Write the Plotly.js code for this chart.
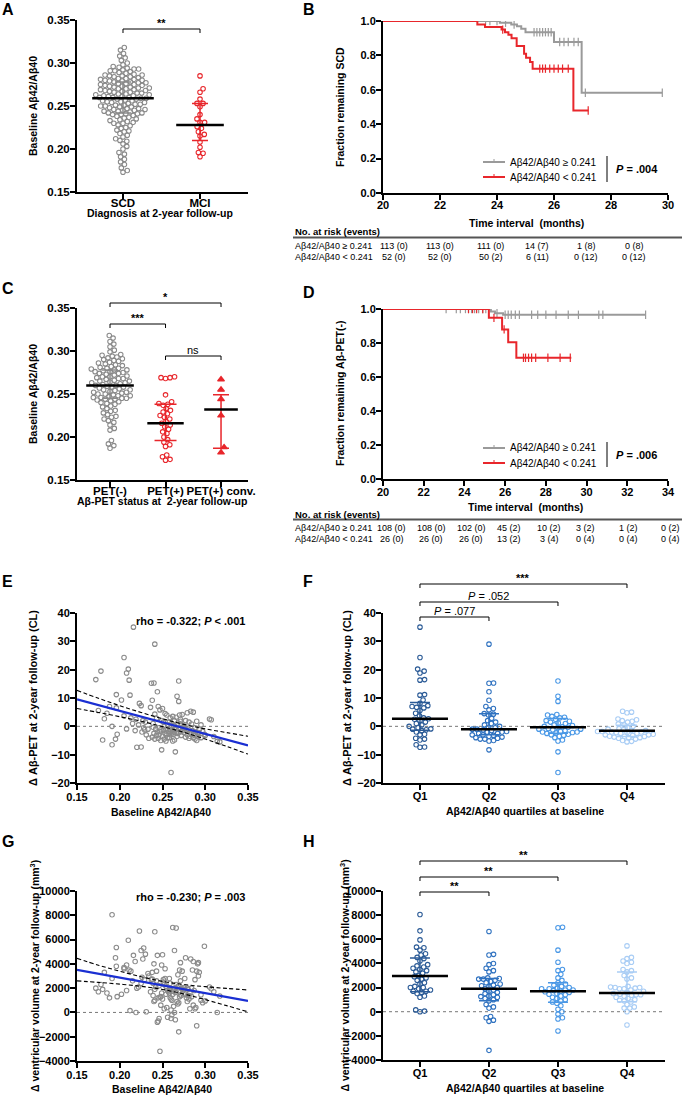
<!DOCTYPE html>
<html><head><meta charset="utf-8">
<script src="https://cdn.plot.ly/plotly-3.0.1.min.js"></script>
<style>html,body{margin:0;padding:0;background:#fff}</style>
</head><body><div id="chart" style="width:685px;height:1096px"></div>
<script>
// ================= DATA =================
// Panel A
const catA = ['SCD', 'MCI'];
const scdRatio = [0.318,0.315,0.311,0.308,0.306,0.303,0.300,
0.298,0.296,0.295,0.294,0.293,0.293,0.292,0.291,0.291,0.290,
0.289,0.288,0.287,0.286,0.286,0.285,0.285,0.284,0.284,0.283,0.282,0.282,0.281,0.281,0.280,0.280,
0.279,0.279,0.278,0.278,0.277,0.277,0.276,0.276,0.275,0.275,0.274,0.274,0.273,0.273,0.272,0.272,0.271,0.271,0.270,0.270,
0.269,0.269,0.268,0.268,0.267,0.267,0.266,0.266,0.265,0.265,0.264,0.264,0.263,0.263,0.262,0.262,0.261,0.261,0.260,0.260,0.260,
0.259,0.259,0.258,0.258,0.257,0.256,0.256,0.255,0.255,0.254,0.254,0.253,0.252,0.252,0.251,0.251,0.250,0.250,
0.249,0.249,0.248,0.247,0.247,0.246,0.246,0.245,0.245,0.244,0.244,0.243,0.242,0.242,0.241,0.241,0.240,0.240,
0.239,0.238,0.237,0.236,0.235,0.234,0.233,0.232,0.231,0.230,0.230,
0.228,0.227,0.225,0.224,0.222,0.221,0.220,
0.218,0.216,0.214,0.212,0.210,0.209,
0.206,0.203,0.200,0.196,0.194,0.191,0.188,0.185,0.182,0.178,0.175,0.173];
const mciRatio = [0.285,0.270,0.266,0.258,0.253,0.253,0.249,0.240,0.235,0.231,0.231,0.226,0.224,0.220,0.217,0.215,0.208,0.202,0.196,0.195,0.191];
const statA_median = [0.259, 0.228];
const statA_lower = [0.242, 0.210];
const statA_upper = [0.278, 0.253];

// Panel C
const catC = ['PET(-)', 'PET(+)', 'PET(+) conv.'];
const petNegRatio = [0.318,0.315,0.311,0.308,0.305,0.301,0.299,
0.296,0.295,0.294,0.293,0.292,0.291,0.290,
0.289,0.288,0.287,0.286,0.285,0.284,0.283,0.282,0.281,0.280,0.280,
0.279,0.278,0.278,0.277,0.276,0.276,0.275,0.274,0.274,0.273,0.272,0.271,0.270,0.270,
0.269,0.268,0.268,0.267,0.266,0.265,0.265,0.264,0.263,0.263,0.262,0.261,0.260,0.260,
0.259,0.258,0.258,0.257,0.256,0.255,0.255,0.254,0.253,0.252,0.252,0.251,0.250,0.250,
0.249,0.248,0.248,0.247,0.246,0.246,0.245,0.245,0.244,0.244,0.243,0.242,0.241,0.240,
0.239,0.238,0.236,0.235,0.233,0.231,0.230,
0.228,0.226,0.224,0.223,0.221,0.219,0.217,0.214,0.210,0.208,
0.196,0.192,0.190,0.187];
const petPosRatio = [0.270,0.269,0.269,0.268,0.249,0.241,0.239,0.238,0.237,0.233,0.231,0.229,0.227,0.225,0.223,0.221,0.218,0.216,0.214,0.212,0.209,0.206,0.204,0.200,0.197,0.194,0.191,0.189,0.179,0.177,0.174,0.173];
const petConvRatio = [0.267,0.255,0.244,0.225,0.188,0.182];
const statC_median = [0.260, 0.216, 0.232];
const statC_lower = [0.245, 0.196, 0.187];
const statC_upper = [0.278, 0.238, 0.249];

// Kaplan-Meier (B, D)
const legendLabels = ['Aβ42/Aβ40 ≥ 0.241', 'Aβ42/Aβ40 &lt; 0.241'];
const kmB_highT = [20, 24.1, 24.5, 24.7, 24.85, 25.0, 26.0, 26.97, 29.8];
const kmB_highS = [1, 0.99, 0.98, 0.97, 0.955, 0.935, 0.878, 0.583, 0.583];
const kmB_highCens = [23.6, 23.75, 24.0, 24.3, 24.6, 25.3, 25.4, 25.5, 25.6, 25.7, 25.8, 25.9, 26.2, 26.35, 26.5, 26.7, 26.85, 27.1, 29.8];
const kmB_lowT = [20, 23.31, 23.58, 24.16, 24.28, 24.40, 24.51, 24.69, 24.95, 25.02, 25.16, 25.25, 26.68, 27.21];
const kmB_lowS = [1, 0.98, 0.965, 0.95, 0.935, 0.92, 0.90, 0.855, 0.81, 0.787, 0.762, 0.723, 0.48, 0.48];
const kmB_lowCens = [24.2, 25.5, 25.6, 25.7, 25.85, 26.0, 26.15, 26.3, 26.5, 27.2];
const kmD_highT = [20, 25.3, 25.5, 25.9, 32.9];
const kmD_highS = [1, 0.985, 0.975, 0.966, 0.966];
const kmD_highCens = [23.1,23.6,23.8,24.05,24.2,24.35,24.5,24.7,24.9,25.05,25.6,26.0,26.15,26.3,26.5,26.7,27.3,27.6,28.0,28.5,29.1,29.6,30.6,30.8,32.9];
const kmD_lowT = [20, 25.2, 25.85, 26.15, 26.55, 29.25];
const kmD_lowS = [1, 0.948, 0.88, 0.805, 0.713, 0.713];
const kmD_lowCens = [24.2,24.4,24.6,24.9,25.45,25.95,26.9,27.0,27.15,27.3,27.5,28.1,28.7,29.2];
const pB = '<b><i>P</i> = .004</b>';
const pD = '<b><i>P</i> = .006</b>';

// Numbers at risk
const riskHeader = 'No. at risk (events)';
const riskB_high = ['113 (0)','113 (0)','111 (0)','14 (7)','1 (8)','0 (8)'];
const riskB_low  = ['52 (0)','52 (0)','50 (2)','6 (11)','0 (12)','0 (12)'];
const riskD_high = ['108 (0)','108 (0)','102 (0)','45 (2)','10 (2)','3 (2)','1 (2)','0 (2)'];
const riskD_low  = ['26 (0)','26 (0)','26 (0)','13 (2)','3 (4)','0 (4)','0 (4)','0 (4)'];

// Panels E-H: one subject per index
const baselineRatio = [
 0.216,0.205,0.210,0.178,0.208,0.172,0.211,0.196,0.212,0.202,0.223,0.188,0.225,0.196,0.236,0.175,0.185,0.205,0.213,0.219,0.182,0.227,0.230,0.215,0.222,0.191,0.228,0.208,0.233,0.218,0.226,0.197,0.231,0.195,0.180,0.234,0.191,0.220,0.225,0.229,
 0.241,0.237,0.240,0.244,0.238,0.245,0.250,0.247,0.253,0.241,0.255,0.243,0.249,0.239,0.256,0.252,0.246,0.242,0.254,0.248,0.251,0.244,0.257,0.240,0.253,0.246,0.255,0.243,0.250,0.238,0.256,0.245,0.241,0.252,0.248,0.254,0.249,0.247,0.239,0.251,
 0.269,0.267,0.269,0.270,0.273,0.262,0.266,0.259,0.271,0.264,0.258,0.268,0.261,0.272,0.263,0.260,0.265,0.270,0.258,0.266,0.262,0.273,0.259,0.264,0.271,0.261,0.268,0.263,0.260,0.272,0.267,0.258,0.264,0.262,0.265,0.260,0.269,0.271,0.266,0.274,
 0.283,0.279,0.286,0.305,0.307,0.277,0.290,0.281,0.295,0.276,0.288,0.280,0.293,0.278,0.285,0.297,0.282,0.289,0.275,0.291,0.284,0.299,0.279,0.287,0.310,0.282,0.292,0.277,0.286,0.295,0.281,0.290,0.314,0.317,0.300,0.288,0.276,0.284,0.292,0.279];
const deltaCL = [
 35,24.3,20.2,19.5,18.8,16.5,16.3,11.2,11.0,9.3,8.1,7.0,7.3,6.5,6.7,5.6,4.6,3.7,3.0,2.5,2.7,2.0,1.5,1.0,0.5,0,-0.5,-0.9,-1.0,-1.5,-2.0,-2.8,-3.0,-4.5,-4.8,-4.2,-6.5,-7.4,-7.3,-1.2,
 29,15.2,15.3,12.2,9.2,7.0,6.3,5.8,4.5,4.3,4.0,2.8,2.0,1.0,0.5,0,-0.5,-1.0,-1.0,-1.2,-1.5,-2.0,-2.0,-2.5,-2.5,-3.0,-3.0,-3.2,-3.5,-3.8,-4.0,-4.2,-4.5,-4.5,-5.0,-5.2,-8.3,-1.8,-0.3,1.5,
 16,10.6,8.8,4.0,4.2,3.5,3.2,3.0,2.5,2.0,1.5,1.2,1.0,0.5,0.3,0,-0.3,-0.5,-1.0,-1.0,-1.2,-1.5,-1.8,-2.0,-2.0,-2.3,-2.5,-2.8,-3.0,-3.2,-3.5,-4.0,-4.8,-5.2,-9.0,-16.3,-0.8,1.8,-2.2,-0.2,
 5.3,4.8,5.0,2.6,2.3,2.0,1.8,1.5,0.5,0,-0.5,-1.0,-1.2,-1.5,-1.5,-1.8,-2.0,-2.0,-2.2,-2.5,-2.5,-2.8,-3.0,-3.0,-3.6,-3.5,-3.5,-3.8,-4.0,-4.0,-4.2,-5.0,-5.3,-5.5,-3.2,-4.5,-0.8,0.8,-2.2,-1.8];
const deltaVent = [
 4700,3700,5950,2300,3900,2000,3500,5350,150,1500,6700,1200,5100,3800,1700,1700,1600,3600,3400,0,3300,4400,4800,2600,2100,8050,5300,1800,3200,4200,2900,1300,50,4500,1900,3000,2800,2000,2400,2700,
 6650,2700,4000,4700,3300,1200,4750,-3200,2800,1000,2000,2600,3900,1400,1800,2300,-500,2100,1500,600,2500,-800,1700,900,3600,2200,400,3400,1100,2750,-400,-700,1900,300,1300,2150,1600,1250,2400,2700,
 2200,900,-1600,3500,1900,7000,6950,2400,4100,5100,1800,3100,-200,2000,500,-500,-600,1300,2800,1700,1500,3400,1200,0,2600,1000,700,1900,200,1400,2100,1600,1950,1750,1650,1100,800,1450,2300,1800,
 4400,2000,4200,2100,1950,4500,-1100,1400,1000,2800,2700,1900,3300,1200,3500,800,1600,400,2050,4000,1300,5450,900,1800,1700,300,4100,1500,600,1450,1100,3400,0,1350,950,300,1900,2000,3000,1400];
const quartileLabels = ['Q1','Q2','Q3','Q4'];
const statF_median = [2.7, -1.0, -0.3, -1.6];
const statF_lower = [-1.4, -3.0, -2.4, -3.6];
const statF_upper = [8.4, 4.4, 2.8, 0.4];
const statH_median = [2950, 1900, 1700, 1550];
const statH_lower = [1650, 900, 780, 830];
const statH_upper = [4450, 2750, 2400, 3300];
// regression fits
const fitX = [0.15,0.175,0.2,0.225,0.25,0.275,0.3,0.325,0.35];
const fitE_line  = [9.5,7.5,5.4,3.4,1.35,-0.7,-2.7,-4.7,-6.7];
const fitE_upper = [12.7,9.9,7.3,4.9,2.7,0.7,-0.9,-2.2,-3.5];
const fitE_lower = [6.3,4.9,3.4,1.8,-0.1,-2.1,-4.5,-7.1,-9.8];
const fitG_line  = [3500,3181,2863,2544,2225,1906,1588,1269,950];
const fitG_upper = [4450,3890,3396,2935,2555,2297,2121,1978,1850];
const fitG_lower = [2600,2472,2330,2153,1895,1515,1055,560,50];
const statE = '<b>rho = -0.322; <i>P</i> &lt; .001</b>';
const statG = '<b>rho = -0.230; <i>P</i> = .003</b>';
const sigA = ['**'];
const sigC = ['*', '***', 'ns'];
const sigF = ['***', '<i>P</i> = .052', '<i>P</i> = .077'];
const sigH = ['**', '**', '**'];
const titleRatio = 'Baseline Aβ42/Aβ40';
const titleCL = 'Δ Aβ-PET at 2-year follow-up (CL)';
const titleVent = 'Δ ventricular volume at 2-year follow-up (mm<sup>3</sup>)';
const titleQuart = 'Aβ42/Aβ40 quartiles at baseline';
const titleTime = 'Time interval&nbsp; (months)';

// ================= LAYOUT / STYLE =================
const W = 685, H = 1096;
const FONT = 'Liberation Sans, Arial, Helvetica, sans-serif';
const GRAY = '#8a8a8a', RED = '#e8262b', KMGRAY = '#9a9a9a';
const QCOL = ['#2a5a96', '#2f72c0', '#4a98e6', '#a9cdf5'];

const P = {
  A:{n:1, box:[77,248,20,192],  xr:[-0.597,1.623], yr:[0.15,0.35], tf:11.5, xs:-6},
  B:{n:2, box:[383,668,21,193], xr:[20,30], yr:[0,1], tf:11, xs:-4},
  C:{n:3, box:[77,248,308,480], xr:[-0.595,2.486], yr:[0.15,0.35], tf:11.5, xs:-6},
  D:{n:4, box:[383,668,309,479], xr:[20,34], yr:[0,1], tf:11, xs:-3},
  E:{n:5, box:[77,248,613,783], xr:[0.15,0.35], yr:[-20,40], tf:11, xs:-2},
  F:{n:6, box:[383,665,613,783], xr:[-0.536,3.551], yr:[-20,40], tf:11, xs:-3},
  G:{n:7, box:[77,248,891,1061], xr:[0.15,0.35], yr:[-4000,10000], tf:11, xs:-2},
  H:{n:8, box:[383,665,891,1060], xr:[-0.536,3.551], yr:[-4000,10000], tf:11, xs:-3}
};
for (const k in P) {
  const p = P[k]; const s = p.n > 1 ? String(p.n) : '';
  p.xa = 'x' + s; p.ya = 'y' + s; p.xk = 'xaxis' + s; p.yk = 'yaxis' + s;
  p.sx = (p.box[1]-p.box[0])/(p.xr[1]-p.xr[0]);
  p.sy = (p.box[3]-p.box[2])/(p.yr[1]-p.yr[0]);
  p.cx = i => p.box[0] + (i - p.xr[0]) * p.sx;
}
const fx = px => px / W, fy = py => 1 - py / H;
const bf = s => ({family: FONT, size: s, color: '#000', weight: 'bold'});
const axBase = {showline:true, linecolor:'#000', linewidth:2, ticks:'outside', ticklen:5, tickwidth:2,
  tickcolor:'#000', showgrid:false, zeroline:false, fixedrange:true};

const layout = {width:W, height:H, margin:{l:0,r:0,t:0,b:0}, paper_bgcolor:'#fff', plot_bgcolor:'rgba(0,0,0,0)',
  showlegend:false, font:{family:FONT, color:'#000'}, shapes:[], annotations:[]};

function axes(p, xo, yo) {
  layout[p.xk] = Object.assign({}, axBase, {tickfont:bf(p.tf), ticklabelstandoff:p.xs, domain:[fx(p.box[0]), fx(p.box[1])], range:p.xr, anchor:p.ya}, xo);
  layout[p.yk] = Object.assign({}, axBase, {tickfont:bf(p.tf), ticklabelstandoff:-2, domain:[fy(p.box[3]), fy(p.box[2])], range:p.yr, anchor:p.xa}, yo);
}
const ratioTicks = {tickvals:[0.15,0.20,0.25,0.30,0.35], tickformat:'.2f'};
axes(P.A, {tickvals:[0,1], ticktext:catA}, ratioTicks);
axes(P.B, {dtick:2, tick0:20}, {dtick:0.2, tick0:0, tickformat:'.1f'});
axes(P.C, {tickvals:[0,1,2], ticktext:catC}, ratioTicks);
axes(P.D, {dtick:2, tick0:20}, {dtick:0.2, tick0:0, tickformat:'.1f'});
axes(P.E, ratioTicks, {dtick:10});
axes(P.F, {tickvals:[0,1,2,3], ticktext:quartileLabels}, {dtick:10});
axes(P.G, ratioTicks, {dtick:2000, tickformat:'d'});
axes(P.H, {tickvals:[0,1,2,3], ticktext:quartileLabels}, {dtick:2000, tickformat:'d'});

const traces = [];

// beeswarm layout of points (deterministic, from values)
function swarm(vals, center, p, d) {
  const order = vals.map((v,i)=>i).sort((a,b)=>vals[a]-vals[b]);
  const placed = []; const out = new Array(vals.length);
  for (const i of order) {
    const y = vals[i]*p.sy;
    const near = placed.filter(q => Math.abs(q.y - y) < d);
    const cands = [0];
    near.forEach(q => { const dx = Math.sqrt(d*d - (q.y-y)*(q.y-y)); cands.push(q.o+dx, q.o-dx); });
    cands.sort((a,b)=>Math.abs(a)-Math.abs(b));
    let o = 0;
    for (const c of cands) { if (near.every(q => Math.hypot(q.o-c, q.y-y) >= d - 1e-6)) { o = c; break; } }
    placed.push({y, o}); out[i] = center + o / p.sx;
  }
  return out;
}

function dotGroup(p, i, vals, color, opts) {
  const o = Object.assign({symbol:'circle-open', size:4.5, d:4.6}, opts);
  traces.push({type:'scatter', mode:'markers', x:swarm(vals, i, p, o.d), y:vals, xaxis:p.xa, yaxis:p.ya,
    marker:{symbol:o.symbol, size:o.size, color:color, line:{width:1.1, color:color}}, hoverinfo:'skip'});
}
function statGroup(p, i, med, lo, hi, barColor, medHalf, capHalf) {
  traces.push({type:'scatter', mode:'markers', x:[i], y:[med], xaxis:p.xa, yaxis:p.ya, hoverinfo:'skip',
    marker:{size:1, color:'rgba(0,0,0,0)'},
    error_y:{type:'data', symmetric:false, array:[hi-med], arrayminus:[med-lo], color:barColor, thickness:1.5, width:capHalf}});
  traces.push({type:'scatter', mode:'markers', x:[i], y:[med], xaxis:p.xa, yaxis:p.ya, hoverinfo:'skip',
    marker:{symbol:'line-ew-open', size:medHalf*2, color:'#000', line:{width:2.5, color:'#000'}}});
}

// ---- A
dotGroup(P.A, 0, scdRatio, GRAY, {});
dotGroup(P.A, 1, mciRatio, RED, {});
statGroup(P.A, 0, statA_median[0], statA_lower[0], statA_upper[0], GRAY, 22, 8);
statGroup(P.A, 1, statA_median[1], statA_lower[1], statA_upper[1], RED, 17, 8);
// ---- C
dotGroup(P.C, 0, petNegRatio, GRAY, {});
dotGroup(P.C, 1, petPosRatio, RED, {});
dotGroup(P.C, 2, petConvRatio, RED, {symbol:'triangle-up', size:6, d:6});
statGroup(P.C, 0, statC_median[0], statC_lower[0], statC_upper[0], GRAY, 17, 8);
statGroup(P.C, 1, statC_median[1], statC_lower[1], statC_upper[1], RED, 13, 11);
statGroup(P.C, 2, statC_median[2], statC_lower[2], statC_upper[2], RED, 12, 8);

// ---- KM
function stepAt(T, S, t) { let v = S[0]; for (let k=0;k<T.length;k++) if (T[k] <= t) v = S[k]; return v; }
function km(p, T, S, C, color, name) {
  traces.push({type:'scatter', mode:'lines', x:T, y:S, xaxis:p.xa, yaxis:p.ya, line:{shape:'hv', color, width:2},
    name, hoverinfo:'skip'});
  traces.push({type:'scatter', mode:'markers', x:C, y:C.map(t=>stepAt(T,S,t)), xaxis:p.xa, yaxis:p.ya,
    hoverinfo:'skip', marker:{symbol:'line-ns-open', size:6, color, line:{width:1.2, color}}});
}
km(P.B, kmB_highT, kmB_highS, kmB_highCens, KMGRAY, legendLabels[0]);
km(P.B, kmB_lowT, kmB_lowS, kmB_lowCens, RED, legendLabels[1]);
km(P.D, kmD_highT, kmD_highS, kmD_highCens, KMGRAY, legendLabels[0]);
km(P.D, kmD_lowT, kmD_lowS, kmD_lowCens, RED, legendLabels[1]);

// ---- E, G scatter + fits
function scatterFit(p, xs, ys, fl, fu, flo) {
  traces.push({type:'scatter', mode:'markers', x:xs, y:ys, xaxis:p.xa, yaxis:p.ya, hoverinfo:'skip',
    marker:{symbol:'circle-open', size:4.5, color:GRAY, line:{width:1.1, color:GRAY}}});
  [fu, flo].forEach(b => traces.push({type:'scatter', mode:'lines', x:fitX, y:b, xaxis:p.xa, yaxis:p.ya,
    hoverinfo:'skip', line:{color:'#000', width:1.1, dash:'4px,2.5px', shape:'spline'}}));
  traces.push({type:'scatter', mode:'lines', x:fitX, y:fl, xaxis:p.xa, yaxis:p.ya, hoverinfo:'skip',
    line:{color:'#1a2fd2', width:2.2}});
}
function zeroLine(p) {
  layout.shapes.push({type:'line', xref:p.xa, yref:p.ya, x0:p.xr[0], x1:p.xr[1], y0:0, y1:0,
    line:{color:'#777', width:1, dash:'dot'}, layer:'below'});
}
zeroLine(P.E); zeroLine(P.F); zeroLine(P.G); zeroLine(P.H);
scatterFit(P.E, baselineRatio, deltaCL, fitE_line, fitE_upper, fitE_lower);
scatterFit(P.G, baselineRatio, deltaVent, fitG_line, fitG_upper, fitG_lower);

// ---- F, H quartile groups (derived from baselineRatio)
const orderIdx = baselineRatio.map((v,i)=>i).sort((a,b)=>baselineRatio[a]-baselineRatio[b]);
const qSize = orderIdx.length / 4;
const quart = [0,1,2,3].map(q => orderIdx.slice(Math.round(q*qSize), Math.round((q+1)*qSize)));
quart.forEach((idx, q) => {
  dotGroup(P.F, q, idx.map(i=>deltaCL[i]), QCOL[q], {});
  dotGroup(P.H, q, idx.map(i=>deltaVent[i]), QCOL[q], {});
});
quart.forEach((idx, q) => {
  statGroup(P.F, q, statF_median[q], statF_lower[q], statF_upper[q], QCOL[q], 20, 10);
  statGroup(P.H, q, statH_median[q], statH_lower[q], statH_upper[q], QCOL[q], 20, 10);
});

// ---- annotations
function ann(text, xpx, ypx, o) {
  layout.annotations.push(Object.assign({text, x:fx(xpx), y:fy(ypx), xref:'paper', yref:'paper', showarrow:false,
    xanchor:'center', yanchor:'middle', font:{family:FONT, size:11, color:'#000'}}, o || {}));
}
// axis titles
function yTitle(p, text, xpx, size) { ann(text, xpx, (p.box[2]+p.box[3])/2, {textangle:-90, font:bf(size || 10.5)}); }
ann('Diagnosis at 2-year follow-up', 160, 213, {font:bf(10.5)});
ann(titleTime, 526, 223, {font:bf(10.5)});
ann('Aβ-PET status at&nbsp; 2-year follow-up', 162, 501, {font:bf(10.5)});
ann(titleTime, 525, 507, {font:bf(10.5)});
ann(titleRatio, 161, 812, {font:bf(10.5)});
ann(titleQuart, 525, 811, {font:bf(10.5)});
ann(titleRatio, 162, 1089, {font:bf(10.5)});
ann(titleQuart, 525, 1088, {font:bf(10.5)});
yTitle(P.A, titleRatio, 33);
yTitle(P.B, 'Fraction remaining SCD', 340);
yTitle(P.C, titleRatio, 33);
yTitle(P.D, 'Fraction remaining Aβ-PET(-)', 340);
yTitle(P.E, titleCL, 33, 11);
yTitle(P.F, titleCL, 347, 11);
yTitle(P.G, titleVent, 34);
yTitle(P.H, titleVent, 344);

const letterFont = bf(16);
[['A',0,9],['B',301,9],['C',0,289],['D',301,292],['E',0,581],['F',301,581],['G',0,841],['H',301,841]]
  .forEach(([t,x,y]) => ann(t, x, y, {xanchor:'left', font:letterFont}));

function bracket(p, i0, i1, ypx, label, lblFont, tip) {
  const x0 = p.cx(i0), x1 = p.cx(i1); tip = tip || 4;
  layout.shapes.push({type:'path', xref:'paper', yref:'paper',
    path:`M${fx(x0)},${fy(ypx+tip)} L${fx(x0)},${fy(ypx)} L${fx(x1)},${fy(ypx)} L${fx(x1)},${fy(ypx+tip)}`,
    line:{color:'#000', width:1}});
  ann(label, (x0+x1)/2, ypx-6, {font:lblFont});
}
const sigBold = bf(11);
const sigReg = {family:FONT, size:11, color:'#000'};
bracket(P.A, 0, 1, 29, sigA[0], sigBold);
bracket(P.C, 0, 2, 303, sigC[0], sigBold);
bracket(P.C, 0, 1, 324, sigC[1], sigBold);
bracket(P.C, 1, 2, 356, sigC[2], sigReg);
bracket(P.F, 0, 3, 584, sigF[0], sigBold);
bracket(P.F, 0, 2, 602, sigF[1], sigReg);
bracket(P.F, 0, 1, 617, sigF[2], sigReg);
bracket(P.H, 0, 3, 861, sigH[0], sigBold);
bracket(P.H, 0, 2, 877, sigH[1], sigBold);
bracket(P.H, 0, 1, 892, sigH[2], sigBold);

ann(statE, 247, 621, {xanchor:'right'});
ann(statG, 247, 897, {xanchor:'right'});

// KM legend keys + P-value blocks
function kmKey(y1, y2) {
  [[y1, KMGRAY, legendLabels[0]], [y2, RED, legendLabels[1]]].forEach(([y, c, t]) => {
    layout.shapes.push({type:'line', xref:'paper', yref:'paper', x0:fx(483), x1:fx(505), y0:fy(y), y1:fy(y), line:{color:c, width:2}});
    layout.shapes.push({type:'line', xref:'paper', yref:'paper', x0:fx(494), x1:fx(494), y0:fy(y-3), y1:fy(y), line:{color:c, width:1}});
    ann(t, 508, y, {xanchor:'left', font:{family:FONT, size:10, color:'#000'}});
  });
}
kmKey(162, 177);
kmKey(448, 463);
function pBlock(y0, y1, text) {
  layout.shapes.push({type:'line', xref:'paper', yref:'paper', x0:fx(607), x1:fx(607), y0:fy(y0), y1:fy(y1), line:{color:'#000', width:1}});
  ann(text, 614, (y0+y1)/2, {xanchor:'left'});
}
pBlock(156, 182, pB);
pBlock(442, 467, pD);

// risk tables
const tblFont = {family:FONT, size:9, color:'#000'};
function riskTable(yHead, yRow1, yRow2, cols, high, low) {
  ann(riskHeader, 293, yHead, {xanchor:'left', font:bf(9.5)});
  layout.shapes.push({type:'line', xref:'paper', yref:'paper', x0:fx(293), x1:fx(682), y0:fy(yHead+5.5), y1:fy(yHead+5.5),
    line:{color:'#555', width:2}});
  ann(legendLabels[0], 293, yRow1, {xanchor:'left', font:tblFont});
  ann(legendLabels[1], 293, yRow2, {xanchor:'left', font:tblFont});
  high.forEach((t,k) => ann(t, cols[k], yRow1, {font:tblFont}));
  low.forEach((t,k) => ann(t, cols[k], yRow2, {font:tblFont}));
}
riskTable(232, 246, 257, [394, 440, 491, 537, 586, 634], riskB_high, riskB_low);
riskTable(514, 528, 538.5, [392, 431, 471, 509, 549, 585, 628, 670], riskD_high, riskD_low);

Plotly.newPlot('chart', traces, layout, {displayModeBar:false, staticPlot:true});
</script></body></html>
